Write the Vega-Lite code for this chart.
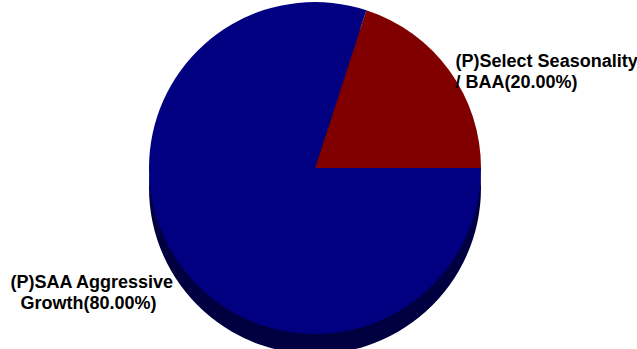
{
  "$schema": "https://vega.github.io/schema/vega-lite/v6.json",
  "width": 630,
  "height": 336,
  "autosize": "none",
  "padding": {"left": 0, "top": 0, "right": 7, "bottom": 13},
  "background": "white",
  "config": {"view": {"stroke": null}},
  "data": {
    "values": [
      {"idx": 1, "key": "select", "label": "(P)Select Seasonality\n/ BAA(20.00%)", "value": 20},
      {"idx": 2, "key": "saa", "label": "(P)SAA Aggressive\n\u200b\u00a0\u00a0Growth(80.00%)", "value": 80}
    ]
  },
  "encoding": {
    "theta": {"field": "value", "type": "quantitative", "stack": true, "scale": {"range": [0.3142, 6.5974]}},
    "order": {"field": "idx", "type": "quantitative"}
  },
  "layer": [
    {
      "mark": {"type": "arc", "radius": 166, "yOffset": 20, "color": "#000040"}
    },
    {
      "mark": {"type": "arc", "radius": 166},
      "encoding": {
        "color": {"field": "key", "type": "nominal", "scale": {"domain": ["select", "saa"], "range": ["#800000", "#000080"]}, "legend": null}
      }
    },
    {
      "mark": {"type": "text", "radius": 175, "align": "left", "baseline": "middle", "lineBreak": "\n", "font": "Liberation Sans", "fontWeight": "bold", "fontSize": 18, "lineHeight": 21, "color": "black", "dx": -1, "dy": -3},
      "encoding": {
        "text": {"condition": {"test": "datum.key === 'select'", "field": "label"}, "value": ""}
      }
    },
    {
      "mark": {"type": "text", "radius": 175, "align": "left", "baseline": "middle", "lineBreak": "\n", "font": "Liberation Sans", "fontWeight": "bold", "fontSize": 18, "lineHeight": 21, "color": "black", "dx": -163, "dy": 12},
      "encoding": {
        "text": {"condition": {"test": "datum.key === 'saa'", "field": "label"}, "value": ""}
      }
    }
  ]
}
